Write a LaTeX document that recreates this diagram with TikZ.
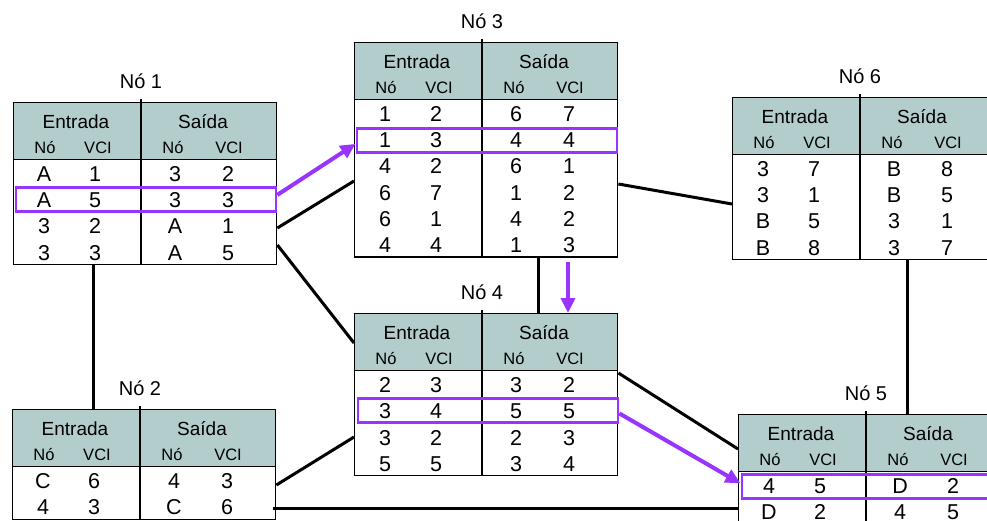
\documentclass[tikz,border=0pt]{standalone}
\usepackage{fontspec}
\setmainfont{Liberation Sans}
\usetikzlibrary{positioning,calc,arrows.meta}
\definecolor{cinzaverde}{RGB}{179,204,204}
\definecolor{roxo}{RGB}{153,51,255}
\tikzset{
    %tabelas
    borda/.style={draw=black, line width=1.4pt},
    corpo/.style={
      rectangle,
      borda, fill=white,
      inner sep=0pt,
      minimum width=263pt,
      anchor=north west},
    cabec/.style={corpo, fill=cinzaverde, minimum height=57pt},
    titulo/.style={anchor=base, font=\fontsize{20}{24}\selectfont},
    cab/.style={anchor=base, font=\fontsize{19}{22}\selectfont},
    sub/.style={anchor=base, font=\fontsize{16.5}{19}\selectfont},
    dado/.style={anchor=base, font=\fontsize{21.5}{24}\selectfont},
    realce/.style={
      rectangle,
      draw=roxo, line width=2.8pt,
      inner sep=0pt,
      minimum width=260pt,
      minimum height=24pt,
      anchor=north west},
    %ligacoes
    lig/.style={draw=black, line width=3pt},
    rota/.style={draw=roxo, line width=4pt, -{Triangle[length=15pt,width=14pt]}},
}
% #1 nome, #2 x, #3 y, #4 titulo, #5 linhas, #6 dados
\newcommand{\tabela}[6]{%
  \node[corpo, minimum height={57pt+#5*26.25pt}] (#1) at (#2,#3) {};
  \node[cabec] (#1c) at (#2,#3) {};
  \draw[borda] ($(#1.north west)+(128,-3)$) -- ($(#1.south west)+(128,0)$);
  \node[titulo] (#1t) at ($(#1.north west)+(128,-13.5)$) {#4};
  \node[cab] at ($(#1.north west)+(63,26.5)$) {Entrada};
  \node[cab] at ($(#1.north west)+(190,26.5)$) {Saída};
  \node[sub] at ($(#1.north west)+(32,51.5)$) {Nó};
  \node[sub] at ($(#1.north west)+(85,51.5)$) {VCI};
  \node[sub] at ($(#1.north west)+(160,51.5)$) {Nó};
  \node[sub] at ($(#1.north west)+(216,51.5)$) {VCI};
  \foreach \a/\b/\c/\d [count=\i] in {#6} {
    \node[dado] at ($(#1.north west)+(31,{57+(\i-1)*26.25+22.5})$) {\a};
    \node[dado] at ($(#1.north west)+(82,{57+(\i-1)*26.25+22.5})$) {\b};
    \node[dado] at ($(#1.north west)+(162,{57+(\i-1)*26.25+22.5})$) {\c};
    \node[dado] at ($(#1.north west)+(215,{57+(\i-1)*26.25+22.5})$) {\d};
  }
}

\begin{document}
\begin{tikzpicture}[x=1pt, y=-1pt]
    \clip (0,0) rectangle (987,521);

    \tabela{n1}{13}{102}{Nó 1}{4}{A/1/3/2, A/5/3/3, 3/2/A/1, 3/3/A/5}
    \tabela{n2}{12}{409}{Nó 2}{2}{C/6/4/3, 4/3/C/6}
    \tabela{n3}{354}{42}{Nó 3}{6}{1/2/6/7, 1/3/4/4, 4/2/6/1, 6/7/1/2, 6/1/4/2, 4/4/1/3}
    \tabela{n4}{354}{313}{Nó 4}{4}{2/3/3/2, 3/4/5/5, 3/2/2/3, 5/5/3/4}
    \tabela{n5}{738}{414}{Nó 5}{2}{4/5/D/2, D/2/4/5}
    \tabela{n6}{732}{97}{Nó 6}{4}{3/7/B/8, 3/1/B/5, B/5/3/1, B/8/3/7}

    % linhas em destaque
    \node (h1) [realce] at ($(n1.north west)+(1.5,84.5)$) {};
    \node (h3) [realce] at ($(n3.north west)+(1.5,85.5)$) {};
    \node (h4) [realce] at ($(n4.north west)+(2.5,84)$) {};
    \node (h5) [realce] at ($(n5.north west)+(2.5,59)$) {};

    % enlaces
    \draw[lig] ($(n1.south west)+(80,0)$) coordinate (a) -- (a |- n2.north);
    \draw[lig] ($(n1.north east)+(0,126)$) -- ($(n3.north west)+(0,139)$);
    \draw[lig] ($(n1.north east)+(0,143)$) -- ($(n4.north west)+(0,30)$);
    \draw[lig] ($(n3.south west)+(184,0)$) coordinate (b) -- (b |- n4.north);
    \draw[lig] ($(n3.north east)+(0,142)$) -- ($(n6.north west)+(0,107)$);
    \draw[lig] ($(n6.south west)+(175,0)$) coordinate (c) -- (c |- n5.north);
    \draw[lig] ($(n4.north east)+(0,60)$) -- ($(n5.north west)+(0,35)$);
    \draw[lig] ($(n2.north east)+(0,76)$) -- ($(n4.north west)+(0,124)$);
    \draw[lig] ($(n2.north east)+(-3,99)$) coordinate (d) -- (d -| n5.west);

    % caminho do circuito virtual
    \draw[rota] ([yshift=5pt]h1.east) -- ([yshift=-3pt]h3.west);
    \draw[rota] ($(n3.south west)+(214,4)$) coordinate (e) -- (e |- n4.north);
    \draw[rota] ([yshift=-3pt]h4.east) -- ([yshift=3pt]h5.west);
\end{tikzpicture}
\end{document}
